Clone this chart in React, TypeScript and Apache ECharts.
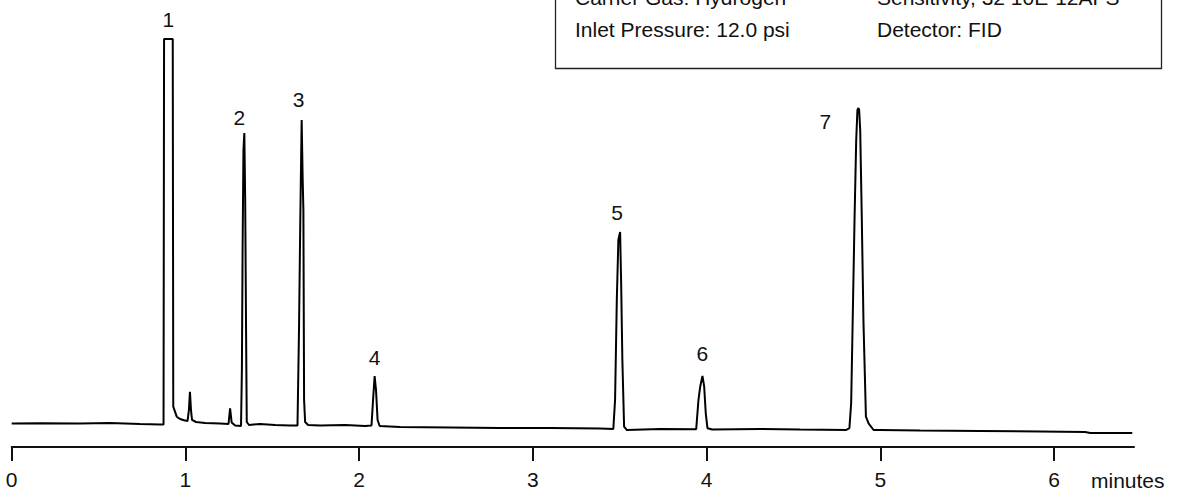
import React, { useEffect, useRef } from "react";
import * as echarts from "echarts";

// Chromatogram trace: retention time (minutes) and detector signal (relative units, 0-100)
const traceTime = [
  0.0, 0.163, 0.393, 0.566, 0.739, 0.854, 0.874,
  0.877, 0.927,
  0.93, 0.95, 0.969, 0.992, 1.012, 1.02, 1.026, 1.032, 1.038, 1.061, 1.113, 1.199, 1.248,
  1.257, 1.266, 1.286, 1.32,
  1.325, 1.329, 1.334, 1.339, 1.344, 1.349, 1.353, 1.366, 1.429, 1.516, 1.602, 1.645,
  1.654, 1.661, 1.669, 1.675, 1.679, 1.683, 1.689, 1.706, 1.775, 1.919, 2.034, 2.071,
  2.08, 2.089, 2.097, 2.106, 2.118, 2.235, 2.523, 2.811, 3.099, 3.387, 3.463,
  3.473, 3.483, 3.492, 3.502, 3.508, 3.515, 3.525, 3.54, 3.732, 3.94,
  3.953, 3.963, 3.976, 3.986, 3.995, 4.005, 4.032, 4.308, 4.538, 4.803,
  4.822, 4.832, 4.839, 4.851, 4.861, 4.868, 4.874, 4.878, 4.884, 4.893, 4.903, 4.917, 4.932, 4.961,
  4.999, 5.229, 5.575, 5.92, 6.179, 6.208, 6.45,
];
const traceSignal = [
  5.73, 5.78, 5.73, 5.85, 5.61, 5.49, 5.49,
  99.5, 99.5,
  9.83, 7.39, 6.83, 6.51, 6.34, 9.02, 13.49, 9.02, 6.59, 6.1, 5.85, 5.73, 5.61,
  9.44, 5.98, 5.24, 5.12,
  18.78, 48.05, 72.44, 76.59, 60.24, 28.54, 6.1, 5.37, 5.61, 5.37, 5.24, 5.24,
  29.34, 54.88, 79.76, 65.12, 57.8, 11.46, 6.1, 5.37, 5.24, 5.37, 5.12, 5.24,
  11.46, 17.32, 13.9, 6.59, 5.12, 4.88, 4.76, 4.63, 4.63, 4.51, 4.39,
  11.46, 35.85, 50.49, 52.44, 40.0, 21.22, 4.95, 4.15, 4.39, 4.32,
  11.46, 14.71, 17.32, 14.71, 8.22, 4.56, 4.27, 4.39, 4.27, 4.15,
  4.63, 10.73, 26.9, 54.63, 74.88, 82.2, 82.68, 82.2, 77.32, 56.17, 30.24, 7.39, 5.78, 4.15,
  4.15, 4.02, 3.9, 3.78, 3.66, 3.41, 3.41,
];

// Peak identification
const peakNames = ["1", "2", "3", "4", "5", "6", "7"];
const peakTimes = [0.902, 1.339, 1.669, 2.089, 3.502, 3.976, 4.874];
const peakHeights = [99.5, 76.59, 79.76, 17.32, 52.44, 17.32, 82.68];
const peakLabelOffsets = [
  [0, -20],
  [-5, -15],
  [-3, -20],
  [0, -18],
  [-3, -19],
  [0, -22],
  [-33, 13],
];

// Axis ticks
const tickValues = [0, 1, 2, 3, 4, 5, 6];
const axisUnit = "minutes";

// Conditions box
const conditionsLeft = ["Carrier Gas: Hydrogen", "Inlet Pressure: 12.0 psi"];
const conditionsRight = ["Sensitivity, 32 10E-12AFS", "Detector: FID"];

const FONT = "'Liberation Sans', Arial, Helvetica, sans-serif";
const TEXT_COLOR = "#111";

export default function App() {
  const ref = useRef<HTMLDivElement>(null);

  useEffect(() => {
    document.body.style.margin = "0";
    if (!ref.current) return;
    const chart = echarts.init(ref.current, null, { renderer: "svg" });

    const trace = traceTime.map((t, i) => [t, traceSignal[i]]);
    const peaks = peakTimes.map((t, i) => ({
      value: [t, peakHeights[i]],
      name: peakNames[i],
      label: { offset: peakLabelOffsets[i] },
    }));

    const rowY = [-3, 29];
    const graphics: any[] = [
      {
        type: "rect",
        shape: { x: 555.5, y: -10, width: 606, height: 78.5 },
        style: { fill: "#fff", stroke: "#222", lineWidth: 1.3 },
        z: 1,
      },
    ];
    conditionsLeft.forEach((s, i) =>
      graphics.push({
        type: "text",
        x: 575,
        y: rowY[i],
        z: 2,
        style: {
          text: s,
          fill: TEXT_COLOR,
          font: `21px ${FONT}`,
          textAlign: "left",
          verticalAlign: "middle",
        },
      })
    );
    conditionsRight.forEach((s, i) =>
      graphics.push({
        type: "text",
        x: 877,
        y: rowY[i],
        z: 2,
        style: {
          text: s,
          fill: TEXT_COLOR,
          font: `21px ${FONT}`,
          textAlign: "left",
          verticalAlign: "middle",
        },
      })
    );
    graphics.push({
      type: "text",
      x: 1091,
      y: 480,
      style: {
        text: axisUnit,
        fill: TEXT_COLOR,
        font: `21px ${FONT}`,
        textAlign: "left",
        verticalAlign: "middle",
      },
    });

    chart.setOption({
      animation: false,
      backgroundColor: "#fff",
      grid: { left: 11.7, right: 44, top: 37, bottom: 43 },
      xAxis: {
        type: "value",
        min: 0,
        max: 6.46,
        interval: 1,
        splitLine: { show: false },
        axisLine: { show: true, onZero: false, lineStyle: { color: "#111", width: 2 } },
        axisTick: {
          show: true,
          length: 14,
          customValues: tickValues,
          lineStyle: { color: "#111", width: 2 },
        },
        axisLabel: {
          customValues: tickValues,
          margin: 22,
          color: TEXT_COLOR,
          fontSize: 21,
          fontFamily: FONT,
        },
      },
      yAxis: {
        type: "value",
        min: 0,
        max: 100,
        show: false,
      },
      series: [
        {
          type: "line",
          data: trace,
          symbol: "none",
          lineStyle: { color: "#000", width: 2 },
          z: 3,
        },
        {
          type: "scatter",
          data: peaks,
          symbolSize: 1,
          itemStyle: { color: "rgba(0,0,0,0)", opacity: 1 },
          label: {
            show: true,
            position: "inside",
            formatter: (p: any) => p.name,
            color: TEXT_COLOR,
            opacity: 1,
            fontSize: 21,
            fontFamily: FONT,
          },
          z: 4,
        },
      ],
      graphic: graphics,
    });

    return () => chart.dispose();
  }, []);

  return <div ref={ref} style={{ width: 1178, height: 490 }} />;
}
